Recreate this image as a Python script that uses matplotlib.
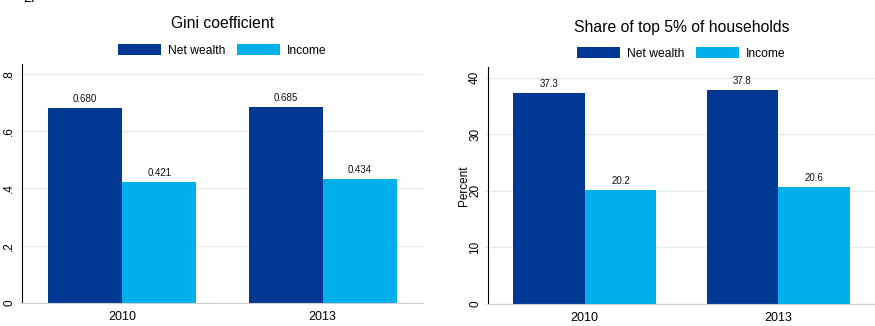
import matplotlib
matplotlib.use('Agg')
import matplotlib.pyplot as plt
import numpy as np

years = ['2010', '2013']
gini_wealth = [0.680, 0.685]
gini_income = [0.421, 0.434]
top5_wealth = [37.3, 37.8]
top5_income = [20.2, 20.6]

dark = '#003893'
light = '#00b0ea'
grid_c = '#e4ecef'

plt.rcParams['font.family'] = ['Liberation Sans', 'DejaVu Sans']

fig = plt.figure(figsize=(8.75, 3.26), dpi=100)
ax1 = fig.add_axes([0.0251, 0.0706, 0.4583, 0.7331])
ax2 = fig.add_axes([0.5577, 0.0675, 0.4423, 0.7270])


def panel(ax, wealth, income, ymax, yticks, ylabels, fmt, title, ttl_y, leg_y):
    x = np.arange(len(years))
    w = 0.37
    b1 = ax.bar(x - w / 2, wealth, w, color=dark, label='Net wealth', zorder=2)
    b2 = ax.bar(x + w / 2, income, w, color=light, label='Income', zorder=2)
    for bars, vals in ((b1, wealth), (b2, income)):
        for r, v in zip(bars, vals):
            ax.annotate(fmt.format(v), (r.get_x() + r.get_width() / 2, r.get_height()),
                        xytext=(0, 3), textcoords='offset points',
                        ha='center', va='bottom', fontsize=7, color='#111111')
    ax.set_xlim(-0.5, 1.5)
    ax.set_ylim(0, ymax)
    ax.set_xticks(x)
    ax.set_xticklabels(years, fontsize=9)
    ax.set_yticks(yticks)
    ax.set_yticklabels(ylabels, fontsize=8.5, rotation=90, va='center')
    ax.tick_params(axis='x', length=0, pad=6)
    ax.tick_params(axis='y', length=3, color=grid_c, pad=2)
    ax.yaxis.grid(True, color=grid_c, lw=1, zorder=0)
    ax.set_axisbelow(True)
    for s in ('top', 'right'):
        ax.spines[s].set_visible(False)
    ax.spines['left'].set_color('black')
    ax.spines['bottom'].set_color('#d0d0d0')
    ax.set_title(title, fontsize=11.3, pad=0, y=ttl_y)
    ax.legend(loc='center', bbox_to_anchor=(0.5, leg_y), ncol=2, frameon=False,
              fontsize=8.7, handlelength=3.5, handleheight=1.1,
              columnspacing=1.0, handletextpad=0.6)


panel(ax1, gini_wealth, gini_income, 0.835, [0, 0.2, 0.4, 0.6, 0.8],
      ['0', '.2', '.4', '.6', '.8'], '{:.3f}', 'Gini coefficient', 1.152, 1.058)
panel(ax2, top5_wealth, top5_income, 41.9, [0, 10, 20, 30, 40],
      ['0', '10', '20', '30', '40'], '{:.1f}', 'Share of top 5% of households', 1.148, 1.058)
ax2.set_ylabel('Percent', fontsize=8.5, labelpad=-1)

fig.text(0.026, 0.994, '2.', fontsize=10, va='baseline', ha='left')

fig.savefig('out.png', dpi=100)
